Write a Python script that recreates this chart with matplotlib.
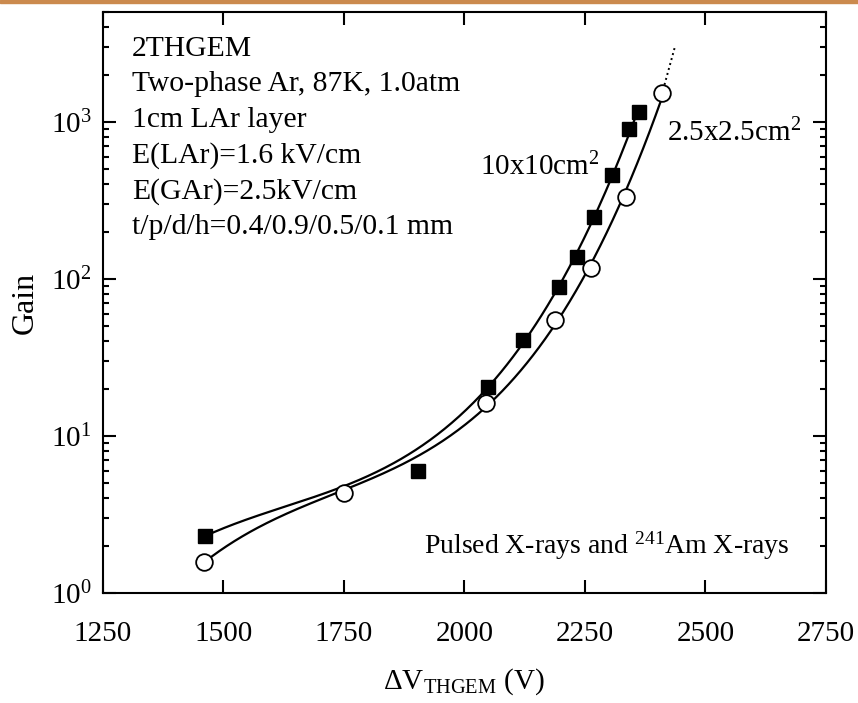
import numpy as np
import matplotlib.pyplot as plt
from matplotlib.patches import Rectangle
from matplotlib.ticker import FixedLocator, FuncFormatter, LogLocator, NullFormatter

plt.rcParams['font.family'] = ['Liberation Serif', 'DejaVu Serif']
plt.rcParams['mathtext.fontset'] = 'custom'
plt.rcParams['mathtext.rm'] = 'Liberation Serif'
plt.rcParams['mathtext.it'] = 'Liberation Serif:italic'

#%% Datos

# THGEM 10x10 cm^2 (cuadrados llenos)
V_10 = [1463, 1903, 2049, 2122, 2196, 2233, 2269, 2306, 2342, 2362]
G_10 = [2.31, 6.0, 20.4, 40.9, 88.5, 137, 246, 460, 898, 1163]
# El punto de 1903 V queda por debajo de la curva, le damos poco peso en el ajuste
w_10 = [1, 0.15, 1, 1, 1, 1, 1, 1, 1, 1]

# THGEM 2.5x2.5 cm^2 (circulos vacios)
V_25 = [1460, 1750, 2045, 2189, 2262, 2336, 2409]
G_25 = [1.58, 4.35, 16.2, 54.8, 117, 331, 1524]
w_25 = [1, 1, 1, 1, 1, 1, 1]

# Extrapolacion punteada al final de la curva de 2.5x2.5
V_ext = [2415, 2436]
G_ext = [1720, 2950]

info = ['2THGEM',
        'Two-phase Ar, 87K, 1.0atm',
        '1cm LAr layer',
        'E(LAr)=1.6 kV/cm',
        'E(GAr)=2.5kV/cm',
        't/p/d/h=0.4/0.9/0.5/0.1 mm']

x_ticks = [1250, 1500, 1750, 2000, 2250, 2500, 2750]


# Ajuste polinomico (grado 3) de log10(G) en funcion de V
def ajuste(V, G, w, grado=3):
    V = np.asarray(V, float)
    p = np.polyfit((V - 2000) / 1000, np.log10(G), grado, w=w)
    x = np.linspace(V.min(), V.max(), 300)
    return x, 10 ** np.polyval(p, (x - 2000) / 1000)


#%% Grafico

fig = plt.figure(figsize=(8.58, 7.03), dpi=100)
ax = fig.add_axes([0.1197, 0.1565, 0.9627 - 0.1197, 0.9829 - 0.1565])

# Franja naranja arriba de todo
fig.patches.append(Rectangle((0, 0.9955), 1, 0.0045, transform=fig.transFigure,
                             color='#cb8a4e', zorder=0))

x, y = ajuste(V_10, G_10, w_10)
ax.plot(x, y, 'k-', lw=1.6)
x, y = ajuste(V_25, G_25, w_25)
ax.plot(x, y, 'k-', lw=1.6)
ax.plot(V_ext, G_ext, 'k:', lw=1.4)

ax.plot(V_10, G_10, 's', color='k', ms=10, zorder=3)
ax.plot(V_25, G_25, 'o', mfc='white', mec='k', mew=1.3, ms=12, zorder=3)

ax.set_yscale('log')
ax.set_xlim(1250, 2750)
ax.set_ylim(1, 5000)

ax.xaxis.set_major_locator(FixedLocator(x_ticks))
ax.yaxis.set_major_locator(LogLocator(base=10, numticks=10))
ax.yaxis.set_minor_locator(LogLocator(base=10, subs=np.arange(2, 10), numticks=10))
ax.yaxis.set_minor_formatter(NullFormatter())
ax.yaxis.set_major_formatter(FuncFormatter(lambda v, pos: r'$10^{%d}$' % round(np.log10(v))))

ax.tick_params(which='both', direction='in', top=True, right=True, labelsize=21, width=1.5)
ax.tick_params(which='major', length=9.5)
ax.tick_params(which='minor', length=4.5)
ax.tick_params(axis='x', pad=20)
ax.tick_params(axis='y', pad=8)
for s in ax.spines.values():
    s.set_linewidth(1.5)

ax.set_ylabel('Gain', fontsize=23, labelpad=8)
ax.set_xlabel(r'$\Delta$V$_{\mathrm{THGEM}}$ (V)', fontsize=21, labelpad=14)

for i, linea in enumerate(info):
    ax.text(0.04, 0.937 - i * 0.0613, linea, transform=ax.transAxes,
            fontsize=21.3, va='center', ha='left')

ax.text(2032, 517, r'10x10cm$^2$', fontsize=21, ha='left', va='center')
ax.text(2420, 850, r'2.5x2.5cm$^2$', fontsize=21, ha='left', va='center')
ax.text(2675, 1.99, r'Pulsed X-rays and $^{241}$Am X-rays', fontsize=20, ha='right', va='center')

plt.savefig('out.png', dpi=100)
